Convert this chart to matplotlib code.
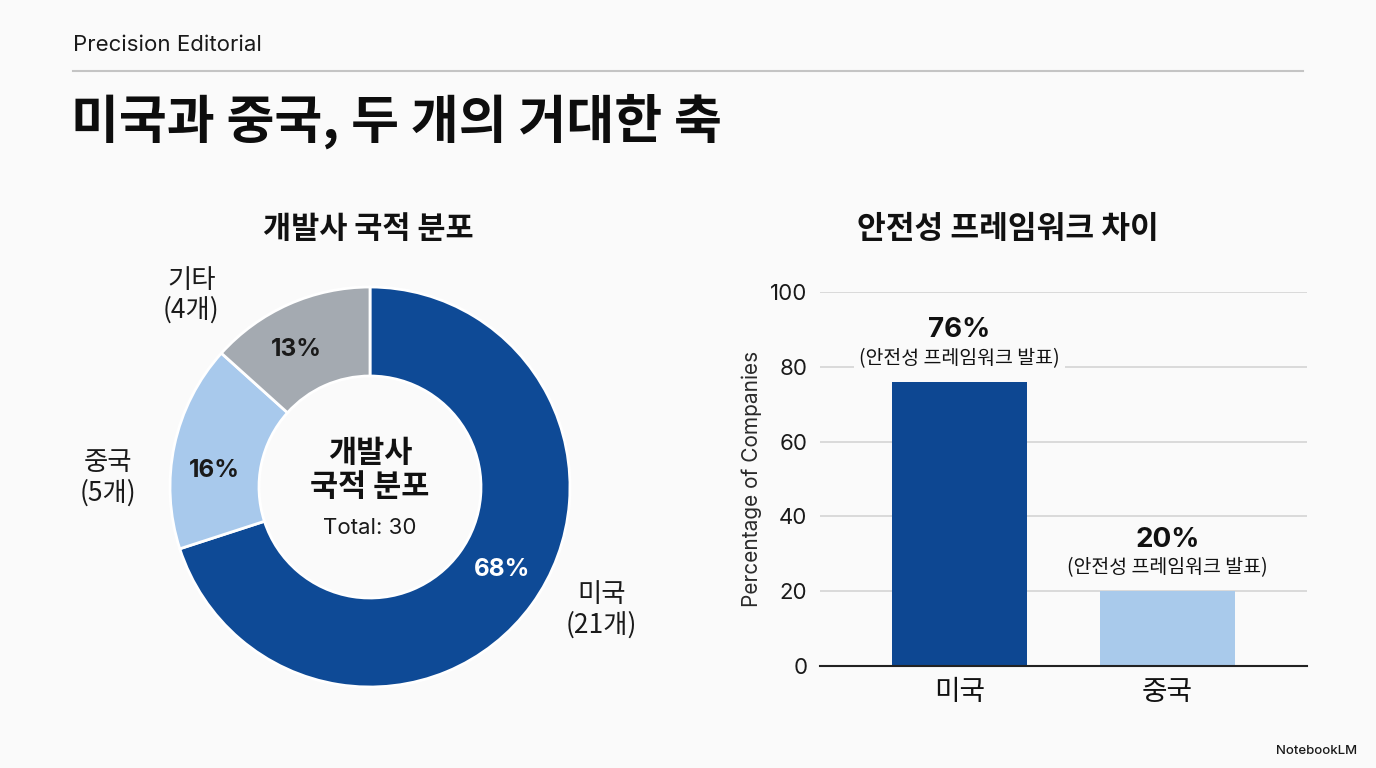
import numpy as np
import matplotlib
matplotlib.use("Agg")
import matplotlib.pyplot as plt

plt.rcParams['font.family'] = ['Noto Sans CJK KR', 'DejaVu Sans']

# 개발사 국적 분포 (donut)
nations = ["미국", "중국", "기타"]
nation_counts = [21, 5, 4]
nation_pcts = [68, 16, 13]
nation_colors = ["#0e4a96", "#a8c9ec", "#a4aab1"]

# 안전성 프레임워크 차이 (bar)
bar_labels = ["미국", "중국"]
bar_values = [76, 20]
bar_colors = ["#0d4792", "#a9caeb"]
bar_note = "(안전성 프레임워크 발표)"
yticks = [0, 20, 40, 60, 80, 100]

BG = "#fafafa"
LATIN = ['Inter', 'Noto Sans CJK KR']
W, H = 1376, 768
fig = plt.figure(figsize=(W / 100, H / 100), dpi=100, facecolor=BG)

# header
fig.text(73 / W, 1 - 45 / H, "Precision Editorial", fontsize=16,
         family=LATIN, color="#1a1a1a", va="center")
fig.add_artist(plt.Line2D([73 / W, 1303 / W], [1 - 71 / H, 1 - 71 / H],
                          color="#c4c4c4", lw=1.5))
fig.text(71 / W, 1 - 121 / H, "미국과 중국, 두 개의 거대한 축", fontsize=37.5,
         fontweight="heavy", color="#0d0d0d", va="center")

# donut
cx, cy, R = 370, 487, 200
ax1 = fig.add_axes([(cx - R) / W, (H - cy - R) / H, 2 * R / W, 2 * R / H])
ax1.set_facecolor("none")
wedges, _ = ax1.pie(nation_counts, colors=nation_colors, startangle=90,
                    counterclock=False, radius=1.0,
                    wedgeprops=dict(width=0.445, edgecolor="white", linewidth=2))
ax1.set_xlim(-1, 1)
ax1.set_ylim(-1, 1)
ax1.axis("off")

pct_colors = ["white", "#1a1a1a", "#1a1a1a"]
pct_shift = [4, 6, 4]      # degrees nudged for percent labels
label_shift = [8, 10, 19]  # degrees nudged for outer labels
for w, name, cnt, pct, pc, ps, sh in zip(wedges, nations, nation_counts,
                                         nation_pcts, pct_colors, pct_shift,
                                         label_shift):
    mid = np.deg2rad((w.theta1 + w.theta2) / 2)
    pa = mid + np.deg2rad(ps)
    ax1.text(0.78 * np.cos(pa), 0.78 * np.sin(pa), f"{pct}%", ha="center",
             va="center", fontsize=17.5, fontweight="bold", family=LATIN, color=pc)
    ang = mid + np.deg2rad(sh)
    ax1.text(1.31 * np.cos(ang), 1.31 * np.sin(ang), f"{name}\n({cnt}개)",
             ha="center", va="center", fontsize=19, color="#1a1a1a",
             linespacing=1.15, clip_on=False)

ax1.text(0, 0.085, "개발사\n국적 분포", ha="center", va="center", fontsize=22,
         fontweight="bold", color="#111111", linespacing=1.1)
ax1.text(0, -0.205, f"Total: {sum(nation_counts)}", ha="center", va="center",
         fontsize=16, family=LATIN, color="#1a1a1a")

fig.text(368 / W, 1 - 229 / H, "개발사 국적 분포", ha="center", va="center",
         fontsize=22, fontweight="bold", color="#111111")

# bar chart
ax2 = fig.add_axes([820 / W, (H - 666) / H, (1307 - 820) / W, (666 - 292) / H])
ax2.set_facecolor("none")
x = np.arange(len(bar_values))
ax2.bar(x, bar_values, width=0.65, color=bar_colors, zorder=2)
ax2.set_xlim(-0.67, 1.67)
ax2.set_ylim(0, 100)
ax2.set_yticks(yticks)
ax2.grid(axis="y", color="#d4d4d4", lw=1.2, zorder=0)
ax2.set_axisbelow(True)
for s in ["top", "right", "left"]:
    ax2.spines[s].set_visible(False)
ax2.spines["bottom"].set_color("#222222")
ax2.spines["bottom"].set_linewidth(1.5)
ax2.spines["bottom"].set_zorder(3)
ax2.tick_params(axis="y", length=0, pad=9, labelsize=16, labelcolor="#1a1a1a")
ax2.tick_params(axis="x", length=0, pad=8)
for lab in ax2.get_yticklabels():
    lab.set_family(LATIN)
ax2.set_xticks(x)
ax2.set_xticklabels(bar_labels, fontsize=20, color="#111111")
ax2.set_ylabel("Percentage of Companies", fontsize=15, color="#2a2a2a",
               family=LATIN, labelpad=6)
for xi, v in zip(x, bar_values):
    ax2.annotate(f"{v}%", (xi, v), xytext=(0, 37), textcoords="offset points",
                 ha="center", va="center", fontsize=20, fontweight="bold",
                 family=LATIN, color="#111111")
    ax2.annotate(bar_note, (xi, v), xytext=(0, 17), textcoords="offset points",
                 ha="center", va="center", fontsize=14, color="#111111",
                 bbox=dict(boxstyle="square,pad=0.25", fc=BG, ec="none"))

fig.text(1008 / W, 1 - 229 / H, "안전성 프레임워크 차이", ha="center", va="center",
         fontsize=22.5, fontweight="bold", color="#111111")

# footer
fig.text(1357 / W, 1 - 751 / H, "NotebookLM", ha="right", va="center",
         fontsize=9.5, fontweight="medium", family=LATIN, color="#1a1a1a")

fig.savefig("out.png", dpi=100, facecolor=BG)
